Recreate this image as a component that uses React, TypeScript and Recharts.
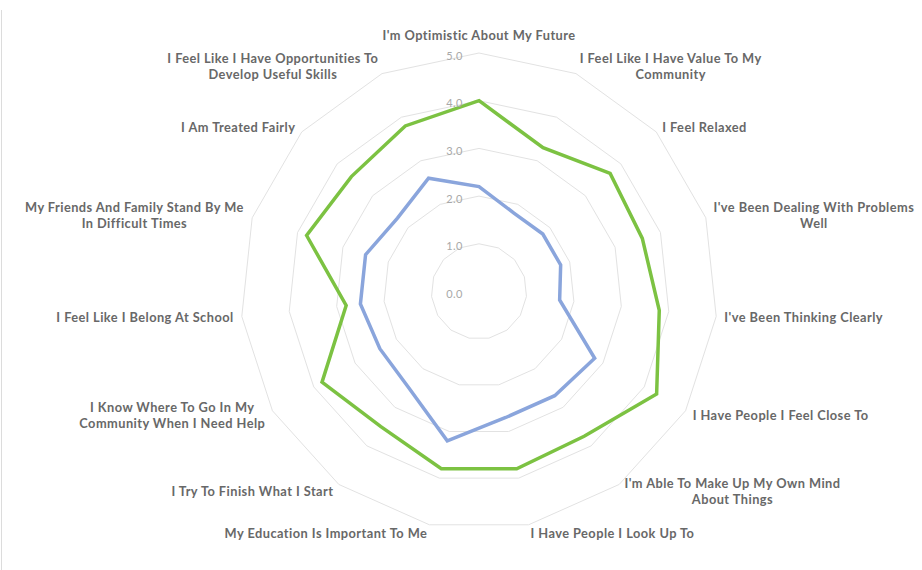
import React from "react";
import { RadarChart, Radar, PolarGrid, PolarAngleAxis, PolarRadiusAxis } from "recharts";

// statements, clockwise from the top; "\n" marks where the label wraps
const statements = [
  "I'm Optimistic About My Future",
  "I Feel Like I Have Value To My\nCommunity",
  "I Feel Relaxed",
  "I've Been Dealing With Problems\nWell",
  "I've Been Thinking Clearly",
  "I Have People I Feel Close To",
  "I'm Able To Make Up My Own Mind\nAbout Things",
  "I Have People I Look Up To",
  "My Education Is Important To Me",
  "I Try To Finish What I Start",
  "I Know Where To Go In My\nCommunity When I Need Help",
  "I Feel Like I Belong At School",
  "My Friends And Family Stand By Me\nIn Difficult Times",
  "I Am Treated Fairly",
  "I Feel Like I Have Opportunities To\nDevelop Useful Skills",
];

const greenScores = [4.0, 3.3, 3.7, 3.6, 3.8, 4.3, 3.75, 3.8, 3.8, 3.5, 3.8, 2.8, 3.8, 3.6, 3.8];
const blueScores = [2.2, 1.8, 1.8, 1.8, 1.7, 2.8, 2.7, 2.7, 3.2, 2.5, 2.4, 2.5, 2.5, 2.3, 2.6];

const scaleTicks = [0, 1, 2, 3, 4, 5];

const data = statements.map((s, i) => ({
  statement: s,
  green: greenScores[i],
  blue: blueScores[i],
}));

const LABEL_FONT = "700 12.8px Lato";
const LETTER_SP = 0.45;
const LINE_H = 16;

let measureCtx: CanvasRenderingContext2D | null = null;
function textWidth(t: string) {
  if (!measureCtx) {
    measureCtx = document.createElement("canvas").getContext("2d");
  }
  if (!measureCtx) return t.length * 6.4;
  measureCtx.font = LABEL_FONT;
  return measureCtx.measureText(t).width + t.length * LETTER_SP;
}

function AngleTick(props: any) {
  const { x, y, textAnchor, payload } = props;
  const lines: string[] = String(payload.value).split("\n");
  const w = Math.max(...lines.map(textWidth));
  let midX = x;
  if (textAnchor === "start") midX = x + w / 2;
  if (textAnchor === "end") midX = x - w / 2;
  // the top label sits above the tick point, the rest are centred on it
  const midY = textAnchor === "middle" ? y - 10 : y;
  const firstY = midY - ((lines.length - 1) * LINE_H) / 2;
  return (
    <text
      textAnchor="middle"
      fill="#686868"
      style={{ font: LABEL_FONT, letterSpacing: LETTER_SP }}
    >
      {lines.map((l, i) => (
        <tspan key={i} x={midX} y={firstY + i * LINE_H} dominantBaseline="central">
          {l}
        </tspan>
      ))}
    </text>
  );
}

function RadiusTick(props: any) {
  const { x, y, payload } = props;
  return (
    <text
      x={x - 16}
      y={y + 2}
      textAnchor="end"
      dominantBaseline="central"
      fill="#a8a8a8"
      fontSize={11}
      fontFamily="Lato"
      letterSpacing={0.5}
    >
      {Number(payload.value).toFixed(1)}
    </text>
  );
}

export default function App() {
  return (
    <div style={{ position: "absolute", left: 0, top: 0, width: 922, height: 570, background: "#fff" }}>
      <div
        style={{ position: "absolute", left: 1, top: 10, width: 0, height: 560, borderLeft: "1px solid #dcdcdc" }}
      />
      <RadarChart
        width={922}
        height={570}
        data={data}
        cx={479}
        cy={291.5}
        outerRadius={238.5}
        margin={{ top: 0, right: 0, bottom: 0, left: 0 }}
      >
        <PolarGrid gridType="polygon" radialLines={false} stroke="#e2e2e2" />
        <PolarAngleAxis
          dataKey="statement"
          tick={<AngleTick />}
          tickLine={false}
          axisLine={false}
        />
        <PolarRadiusAxis
          angle={90}
          domain={[0, 5]}
          ticks={scaleTicks}
          tickCount={6}
          axisLine={false}
          tickLine={false}
          tick={<RadiusTick />}
        />
        <Radar
          dataKey="blue"
          stroke="#8aa5dc"
          strokeWidth={3.5}
          fill="none"
          fillOpacity={0}
          dot={false}
          isAnimationActive={false}
        />
        <Radar
          dataKey="green"
          stroke="#7cc242"
          strokeWidth={3.5}
          fill="none"
          fillOpacity={0}
          dot={false}
          isAnimationActive={false}
        />
      </RadarChart>
    </div>
  );
}
